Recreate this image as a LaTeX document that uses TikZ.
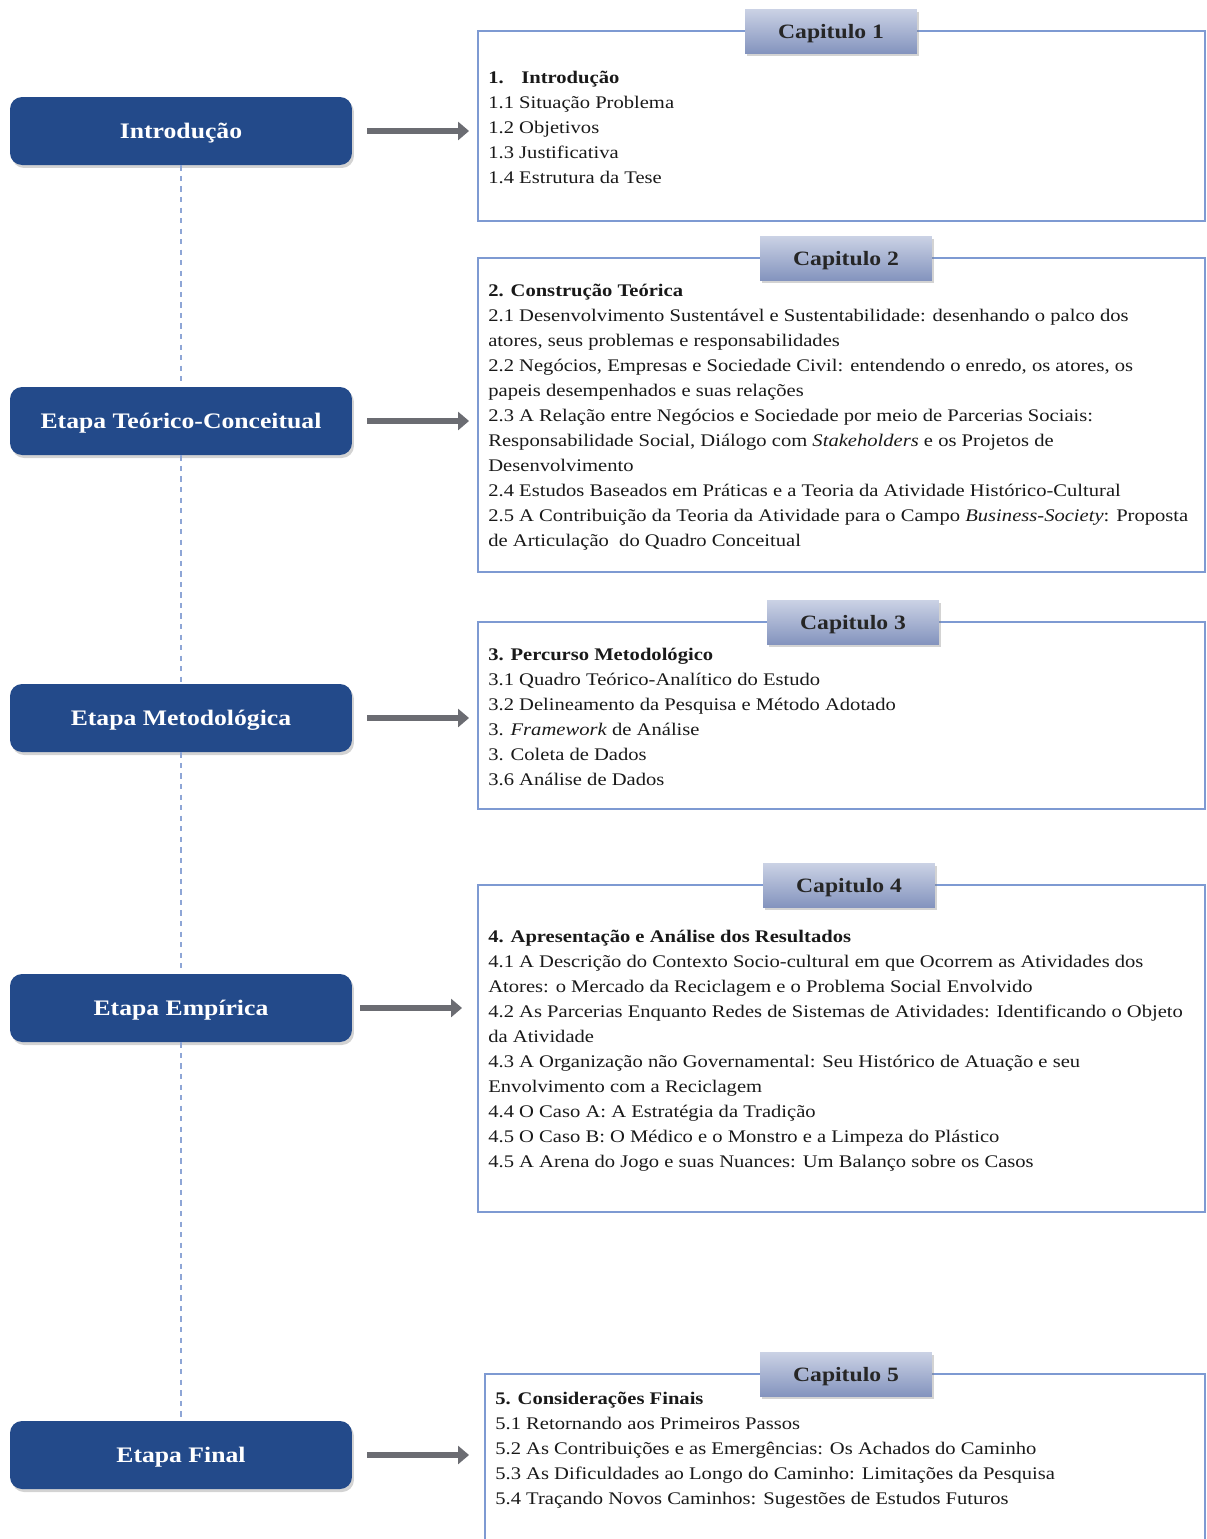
\documentclass[tikz,border=0pt]{standalone}
\usepackage{fontspec}
\setmainfont{Liberation Serif}[FakeStretch=1.16]
\usetikzlibrary{arrows.meta, shadows, fit, positioning}
\definecolor{etapaazul}{HTML}{234A8A}
\definecolor{borda}{HTML}{7E9AD2}
\definecolor{guiaazul}{HTML}{8EA6D6}
\definecolor{tabtopo}{HTML}{CBD2E5}
\definecolor{tabbase}{HTML}{8494BE}
\definecolor{setacinza}{HTML}{6B6C72}

\begin{document}
\begin{tikzpicture}[
		x=0.02cm, y=-0.02cm, % one unit = one pixel of the reference
		etapa/.style={
				fill=etapaazul,
				rounded corners=0.24cm,
				minimum width=6.84cm,
				minimum height=1.36cm,
				text=white,
				text depth=0pt,
				font=\fontsize{12.6}{15}\selectfont\bfseries,
				drop shadow={opacity=0.35, shadow xshift=0.04cm, shadow yshift=-0.06cm}
			},
		capbox/.style={draw=borda, line width=1.1pt, inner sep=0pt},
		captab/.style={
				top color=tabtopo,
				bottom color=tabbase,
				minimum width=3.44cm,
				minimum height=0.88cm,
				text=black!85,
				text depth=0pt,
				font=\fontsize{11.6}{14}\selectfont\bfseries,
				drop shadow={opacity=0.35, shadow xshift=0.04cm, shadow yshift=-0.05cm}
			},
		conteudo/.style={
				anchor=north west,
				align=left,
				inner sep=0pt,
				text=black!90,
				font=\fontsize{10.1}{14.23}\selectfont,
				execute at begin node=\rule{0pt}{8pt}% top of node = first baseline - 8pt
			},
		seta/.style={
				draw=setacinza,
				line width=0.12cm,
				-{Triangle[length=0.22cm, width=0.36cm]},
				shorten <=0.3cm,
				shorten >=0.16cm
			},
		guia/.style={draw=guiaazul, dashed, line width=0.7pt}
	]
	\useasboundingbox (0,0) rectangle (1207,1539);

	% stages on the left
	\node[etapa] (intro) at (181,131) {Introdução};
	\node[etapa] (teor) at (181,421) {Etapa Teórico-Conceitual};
	\node[etapa] (meto) at (181,718) {Etapa Metodológica};
	\node[etapa] (empi) at (181,1008) {Etapa Empírica};
	\node[etapa] (final) at (181,1455) {Etapa Final};

	\draw[guia] (intro.south) -- (teor.north);
	\draw[guia] (teor.south) -- (meto.north);
	\draw[guia] (meto.south) -- (empi.north);
	\draw[guia] (empi.south) -- (final.north);

	% chapter boxes
	\node[capbox, fit={(478,31) (1205,221)}] (cap1) {};
	\node[capbox, fit={(478,258) (1205,572)}] (cap2) {};
	\node[capbox, fit={(478,622) (1205,809)}] (cap3) {};
	\node[capbox, fit={(478,885) (1205,1212)}] (cap4) {};
	\node[capbox, fit={(485,1374) (1205,1590)}] (cap5) {};

	\node[captab] (tab1) at (831,31) {Capitulo 1};
	\node[captab] (tab2) at (846,258) {Capitulo 2};
	\node[captab] (tab3) at (853,622) {Capitulo 3};
	\node[captab] (tab4) at (849,885) {Capitulo 4};
	\node[captab] (tab5) at (846,1374) {Capitulo 5};

	% first baseline minus 14 px
	\node[conteudo] (txt1) at (488,71) {\textbf{1.\hspace{10pt}Introdução}\\
		1.1 Situação Problema\\
		1.2 Objetivos\\
		1.3 Justificativa\\
		1.4 Estrutura da Tese};

	\node[conteudo] (txt2) at (488,284) {\textbf{2. Construção Teórica}\\
		2.1 Desenvolvimento Sustentável e Sustentabilidade: desenhando o palco dos\\
		atores, seus problemas e responsabilidades\\
		2.2 Negócios, Empresas e Sociedade Civil: entendendo o enredo, os atores, os\\
		papeis desempenhados e suas relações\\
		2.3 A Relação entre Negócios e Sociedade por meio de Parcerias Sociais:\\
		Responsabilidade Social, Diálogo com \textit{Stakeholders} e os Projetos de\\
		Desenvolvimento\\
		2.4 Estudos Baseados em Práticas e a Teoria da Atividade Histórico-Cultural\\
		2.5 A Contribuição da Teoria da Atividade para o Campo \textit{Business-Society}: Proposta\\
		de Articulação\ \ do Quadro Conceitual};

	\node[conteudo] (txt3) at (488,648) {\textbf{3. Percurso Metodológico}\\
		3.1 Quadro Teórico-Analítico do Estudo\\
		3.2 Delineamento da Pesquisa e Método Adotado\\
		3. \textit{Framework} de Análise\\
		3. Coleta de Dados\\
		3.6 Análise de Dados};

	\node[conteudo] (txt4) at (488,930) {\textbf{4. Apresentação e Análise dos Resultados}\\
		4.1 A Descrição do Contexto Socio-cultural em que Ocorrem as Atividades dos\\
		Atores: o Mercado da Reciclagem e o Problema Social Envolvido\\
		4.2 As Parcerias Enquanto Redes de Sistemas de Atividades: Identificando o Objeto\\
		da Atividade\\
		4.3 A Organização não Governamental: Seu Histórico de Atuação e seu\\
		Envolvimento com a Reciclagem\\
		4.4 O Caso A: A Estratégia da Tradição\\
		4.5 O Caso B: O Médico e o Monstro e a Limpeza do Plástico\\
		4.5 A Arena do Jogo e suas Nuances: Um Balanço sobre os Casos};

	\node[conteudo] (txt5) at (495,1392) {\textbf{5. Considerações Finais}\\
		5.1 Retornando aos Primeiros Passos\\
		5.2 As Contribuições e as Emergências: Os Achados do Caminho\\
		5.3 As Dificuldades ao Longo do Caminho: Limitações da Pesquisa\\
		5.4 Traçando Novos Caminhos: Sugestões de Estudos Futuros};

	% arrows from stage to chapter
	\draw[seta] (intro.east) -- (intro.east -| cap1.west);
	\draw[seta] (teor.east) -- (teor.east -| cap2.west);
	\draw[seta] (meto.east) -- (meto.east -| cap3.west);
	\draw[seta, shorten <=0.16cm, shorten >=0.3cm] (empi.east) -- (empi.east -| cap4.west);
	\draw[seta, shorten >=0.3cm] (final.east) -- (final.east -| cap5.west);
\end{tikzpicture}
\end{document}
